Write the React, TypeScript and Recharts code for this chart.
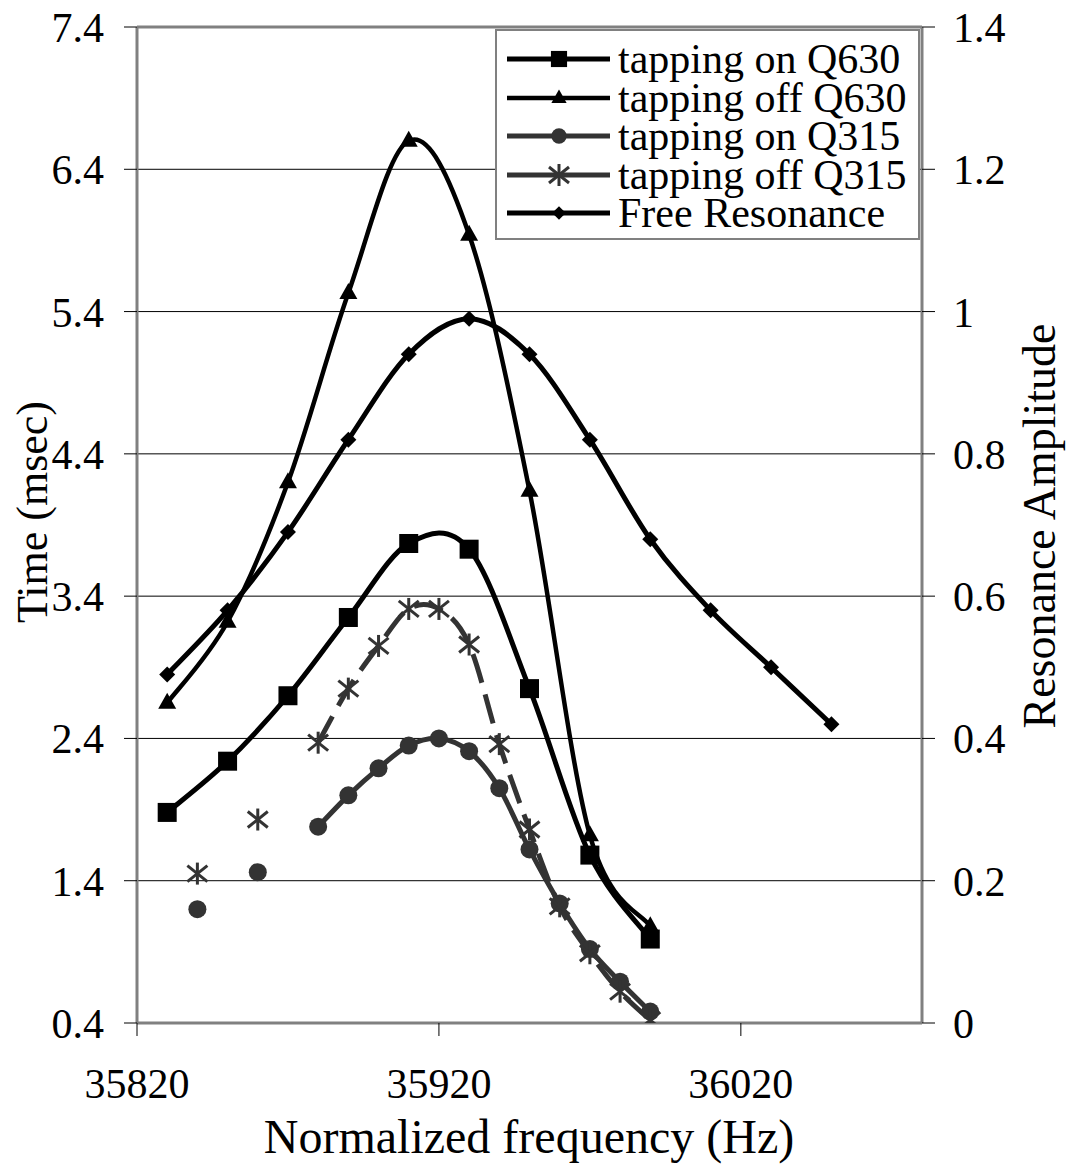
import { LineChart, Line, XAxis, YAxis, CartesianGrid, ReferenceLine, Legend } from 'recharts'

const FONT = '"Liberation Serif", "Times New Roman", Times, serif'

// frequency grids (Hz) for each set of measurements
const q630Freq = [35830, 35850, 35870, 35890, 35910, 35930, 35950, 35970, 35990]
const q315Freq = [35840, 35860, 35880, 35890, 35900, 35910, 35920, 35930, 35940, 35950, 35960, 35970, 35980, 35990]
const freeFreq = [35830, 35850, 35870, 35890, 35910, 35930, 35950, 35970, 35990, 36010, 36030, 36050]

// time (msec), left axis
const tapOnQ630 = [1.88, 2.24, 2.7, 3.25, 3.77, 3.73, 2.75, 1.58, 0.99]
const tapOffQ630 = [2.65, 3.22, 4.2, 5.53, 6.6, 5.94, 4.14, 1.72, 1.08]
const tapOnQ315 = [1.2, 1.46, 1.78, 2.0, 2.19, 2.35, 2.4, 2.31, 2.05, 1.62, 1.24, 0.92, 0.69, 0.48]
const tapOffQ315 = [1.45, 1.83, 2.37, 2.75, 3.05, 3.31, 3.31, 3.06, 2.36, 1.76, 1.22, 0.89, 0.62, 0.42]

// resonance amplitude, right axis
const freeResonance = [0.49, 0.58, 0.69, 0.82, 0.94, 0.99, 0.94, 0.82, 0.68, 0.58, 0.5, 0.42]

const xTicks = [35820, 35920, 36020]
const timeTicks = [0.4, 1.4, 2.4, 3.4, 4.4, 5.4, 6.4, 7.4]
const ampTicks = [0, 0.2, 0.4, 0.6, 0.8, 1, 1.2, 1.4]

type MarkerKind = 'square' | 'triangle' | 'circle' | 'star' | 'diamond'

const series = [
  { key: 'q630on', name: 'tapping on Q630', freqs: q630Freq, values: tapOnQ630, axis: 'left', color: '#000', width: 5, dash: undefined, marker: 'square' as MarkerKind, connect: true },
  { key: 'q630off', name: 'tapping off Q630', freqs: q630Freq, values: tapOffQ630, axis: 'left', color: '#000', width: 4.5, dash: undefined, marker: 'triangle' as MarkerKind, connect: true },
  { key: 'q315on', name: 'tapping on Q315', freqs: q315Freq, values: tapOnQ315, axis: 'left', color: '#333', width: 5, dash: undefined, marker: 'circle' as MarkerKind, connect: false },
  { key: 'q315off', name: 'tapping off Q315', freqs: q315Freq, values: tapOffQ315, axis: 'left', color: '#333', width: 5, dash: '30 12', marker: 'star' as MarkerKind, connect: false },
  { key: 'free', name: 'Free Resonance', freqs: freeFreq, values: freeResonance, axis: 'right', color: '#000', width: 5, dash: undefined, marker: 'diamond' as MarkerKind, connect: true },
]

const allFreqs = Array.from(new Set([...q630Freq, ...q315Freq, ...freeFreq])).sort((a, b) => a - b)
const rows = allFreqs.map((f) => {
  const row: Record<string, number> = { f }
  series.forEach((s) => {
    const i = s.freqs.indexOf(f)
    if (i >= 0) row[s.key] = s.values[i]
  })
  return row
})

// Excel-like smoothed line (Catmull-Rom through the points)
function excelSmooth(context: any) {
  let pts: number[][] = []
  return {
    areaStart() {},
    areaEnd() {},
    lineStart() {
      pts = []
    },
    point(x: number, y: number) {
      pts.push([+x, +y])
    },
    lineEnd() {
      const n = pts.length
      if (!n) return
      context.moveTo(pts[0][0], pts[0][1])
      for (let i = 0; i < n - 1; i++) {
        const p0 = pts[Math.max(i - 1, 0)]
        const p1 = pts[i]
        const p2 = pts[i + 1]
        const p3 = pts[Math.min(i + 2, n - 1)]
        context.bezierCurveTo(
          p1[0] + (p2[0] - p0[0]) / 6,
          p1[1] + (p2[1] - p0[1]) / 6,
          p2[0] - (p3[0] - p1[0]) / 6,
          p2[1] - (p3[1] - p1[1]) / 6,
          p2[0],
          p2[1]
        )
      }
    },
  }
}

function Marker({ kind, cx, cy, color, small }: { kind: MarkerKind; cx: number; cy: number; color: string; small?: boolean }) {
  const k = small ? 0.85 : 1
  switch (kind) {
    case 'square':
      return <rect x={cx - 9.5 * k} y={cy - 9.5 * k} width={19 * k} height={19 * k} fill={color} />
    case 'triangle':
      return <polygon points={`${cx},${cy - 10 * k} ${cx - 9 * k},${cy + 6 * k} ${cx + 9 * k},${cy + 6 * k}`} fill={color} />
    case 'circle':
      return <circle cx={cx} cy={cy} r={9 * k} fill={color} />
    case 'star':
      return (
        <g stroke={color} strokeWidth={3}>
          <line x1={cx} y1={cy - 11} x2={cx} y2={cy + 11} />
          <line x1={cx - 10} y1={cy - 8} x2={cx + 10} y2={cy + 8} />
          <line x1={cx - 10} y1={cy + 8} x2={cx + 10} y2={cy - 8} />
        </g>
      )
    default:
      return <polygon points={`${cx},${cy - 8 * k} ${cx + 8 * k},${cy} ${cx},${cy + 8 * k} ${cx - 8 * k},${cy}`} fill={color} />
  }
}

function LegendBox() {
  return (
    <div
      style={{
        boxSizing: 'border-box',
        width: 425,
        height: 211,
        border: '2px solid #808080',
        background: '#fff',
        paddingTop: 9,
        fontFamily: FONT,
        color: '#000',
      }}
    >
      {series.map((s) => (
        <div key={s.key} style={{ display: 'flex', alignItems: 'center', height: 38.5 }}>
          <svg width={121} height={38} style={{ flex: 'none' }}>
            <line x1={10} x2={113} y1={19} y2={19} stroke={s.color} strokeWidth={s.width} />
            <Marker kind={s.marker} cx={62} cy={19} color={s.color} small />
          </svg>
          <span style={{ fontSize: 42, lineHeight: '38.5px', whiteSpace: 'nowrap' }}>{s.name}</span>
        </div>
      ))}
    </div>
  )
}

function XTick({ x, y, payload }: any) {
  return (
    <text x={x} y={y} dy={30} textAnchor="middle" fontSize={42} fontFamily={FONT} fill="#000">
      {payload.value}
    </text>
  )
}

function LeftTick({ x, y, payload }: any) {
  return (
    <text x={x} y={y} dy={15} textAnchor="end" fontSize={42} fontFamily={FONT} fill="#000">
      {payload.value.toFixed(1)}
    </text>
  )
}

function RightTick({ x, y, payload }: any) {
  return (
    <text x={x} y={y} dy={15} textAnchor="start" fontSize={42} fontFamily={FONT} fill="#000">
      {payload.value}
    </text>
  )
}

export default function App() {
  return (
    <div style={{ position: 'absolute', left: 0, top: 0, width: 1067, height: 1169, background: '#fff' }}>
      <LineChart width={1067} height={1169} data={rows} margin={{ top: 27, right: 0, bottom: 0, left: 0 }}>
        <CartesianGrid yAxisId="left" vertical={false} stroke="#000" strokeWidth={1} />
        <XAxis
          dataKey="f"
          type="number"
          domain={[35820, 36080]}
          ticks={xTicks}
          allowDataOverflow
          height={146}
          tickSize={13}
          tickMargin={32}
          tick={<XTick />}
          axisLine={{ stroke: '#808080', strokeWidth: 3 }}
          tickLine={{ stroke: '#000' }}
          label={{
            content: () => (
              <text x={529} y={1153} textAnchor="middle" fontSize={48} fontFamily={FONT} fill="#000">
                Normalized frequency (Hz)
              </text>
            ),
          }}
        />
        <YAxis
          yAxisId="left"
          orientation="left"
          type="number"
          width={137}
          domain={[0.4, 7.4]}
          ticks={timeTicks}
          allowDataOverflow
          tickSize={13}
          tickMargin={20}
          tick={<LeftTick />}
          axisLine={{ stroke: '#808080', strokeWidth: 3 }}
          tickLine={{ stroke: '#000' }}
          label={{
            content: () => (
              <text transform="translate(47, 512) rotate(-90)" textAnchor="middle" fontSize={44} fontFamily={FONT} fill="#000">
                Time (msec)
              </text>
            ),
          }}
        />
        <YAxis
          yAxisId="right"
          orientation="right"
          type="number"
          width={145}
          domain={[0, 1.4]}
          ticks={ampTicks}
          allowDataOverflow
          tickSize={13}
          tickMargin={18}
          tick={<RightTick />}
          axisLine={{ stroke: '#808080', strokeWidth: 3 }}
          tickLine={{ stroke: '#000' }}
          label={{
            content: () => (
              <text transform="translate(1055, 526) rotate(-90)" textAnchor="middle" fontSize={46} fontFamily={FONT} fill="#000">
                Resonance Amplitude
              </text>
            ),
          }}
        />
        <ReferenceLine yAxisId="left" y={7.4} stroke="#808080" strokeWidth={3} />
        <Legend
          layout="vertical"
          align="center"
          verticalAlign="middle"
          wrapperStyle={{ left: 495, top: 29, width: 425, height: 211 }}
          content={() => <LegendBox />}
        />
        {series.map((s) => (
          <Line
            key={s.key}
            yAxisId={s.axis}
            dataKey={s.key}
            name={s.name}
            type={excelSmooth as any}
            stroke={s.color}
            strokeWidth={s.width}
            strokeDasharray={s.dash}
            connectNulls={s.connect}
            isAnimationActive={false}
            activeDot={false}
            dot={(p: any) =>
              p.cx == null || p.cy == null || p.value == null ? (
                <g key={`dot-${s.key}-${p.index}`} />
              ) : (
                <g key={`dot-${s.key}-${p.index}`}>
                  <Marker kind={s.marker} cx={p.cx} cy={p.cy} color={s.color} />
                </g>
              )
            }
          />
        ))}
      </LineChart>
    </div>
  )
}
